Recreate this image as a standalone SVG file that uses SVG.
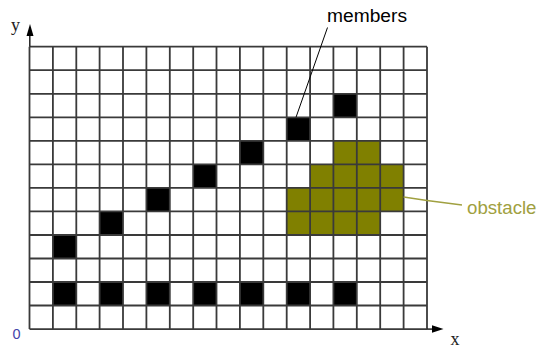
<svg xmlns="http://www.w3.org/2000/svg" width="537" height="348" viewBox="0 0 537 348">
<style>
.blk{fill:#000}
.obs{fill:#808000}
.grid{fill:none;stroke:#3a3a3a;stroke-width:1.8}
.lbl{font-family:"Liberation Sans",Arial,sans-serif}
.ax{font-family:"Liberation Serif","Times New Roman",serif;fill:#222}
</style>
<rect width="537" height="348" fill="#fff"/>
<g id="obstacle-cells">
<rect class="obs" x="333.4" y="140.8" width="46.8" height="23.6"/>
<rect class="obs" x="310.1" y="164.4" width="93.5" height="23.5"/>
<rect class="obs" x="286.7" y="187.9" width="116.9" height="23.5"/>
<rect class="obs" x="286.7" y="211.4" width="93.5" height="23.6"/>
</g>
<g id="members">
<rect class="blk" x="52.9" y="235.0" width="23.4" height="23.5"/>
<rect class="blk" x="99.6" y="211.4" width="23.4" height="23.6"/>
<rect class="blk" x="146.4" y="187.9" width="23.4" height="23.5"/>
<rect class="blk" x="193.2" y="164.4" width="23.3" height="23.5"/>
<rect class="blk" x="239.9" y="140.8" width="23.4" height="23.6"/>
<rect class="blk" x="286.7" y="117.3" width="23.4" height="23.5"/>
<rect class="blk" x="333.4" y="93.8" width="23.4" height="23.5"/>
<rect class="blk" x="52.9" y="282.0" width="23.4" height="23.5"/>
<rect class="blk" x="99.6" y="282.0" width="23.4" height="23.5"/>
<rect class="blk" x="146.4" y="282.0" width="23.4" height="23.5"/>
<rect class="blk" x="193.2" y="282.0" width="23.3" height="23.5"/>
<rect class="blk" x="239.9" y="282.0" width="23.4" height="23.5"/>
<rect class="blk" x="286.7" y="282.0" width="23.4" height="23.5"/>
<rect class="blk" x="333.4" y="282.0" width="23.4" height="23.5"/>
</g>
<g id="grid">
<path class="grid" d="M29.5 46.7V329.1M52.9 46.7V329.1M76.3 46.7V329.1M99.6 46.7V329.1M123 46.7V329.1M146.4 46.7V329.1M169.8 46.7V329.1M193.2 46.7V329.1M216.5 46.7V329.1M239.9 46.7V329.1M263.3 46.7V329.1M286.7 46.7V329.1M310.1 46.7V329.1M333.4 46.7V329.1M356.8 46.7V329.1M380.2 46.7V329.1M403.6 46.7V329.1M427 46.7V329.1"/>
<path class="grid" d="M29.5 46.7H427M29.5 70.2H427M29.5 93.8H427M29.5 117.3H427M29.5 140.8H427M29.5 164.4H427M29.5 187.9H427M29.5 211.4H427M29.5 235H427M29.5 258.5H427M29.5 282H427M29.5 305.5H427M29.5 329.1H427"/>
</g>
<g id="axes">
<path d="M29.8 46.7V35" stroke="#222" stroke-width="1.5"/>
<polygon points="30,24 33.5,36 26.5,36" fill="#000"/>
<path d="M427 329.1H433" stroke="#222" stroke-width="1.5"/>
<polygon points="443.5,329 432,325.2 432,332.8" fill="#000"/>
<text class="ax" x="11" y="31" font-size="18">y</text>
<text class="ax" x="450.5" y="344.5" font-size="18">x</text>
<text class="lbl" x="12.5" y="339" font-size="14.5" fill="#4444aa">0</text>
</g>
<g id="connectors">
<line x1="296" y1="117.3" x2="327.5" y2="27.5" stroke="#000" stroke-width="1"/>
<polyline points="403.6,197 427,200.5 462,205" fill="none" stroke="#a0a040" stroke-width="1.3"/>
</g>
<g id="labels">
<text class="lbl" x="327" y="22.3" font-size="17.5" textLength="80" lengthAdjust="spacingAndGlyphs" fill="#000">members</text>
<text class="lbl" x="467" y="214.3" font-size="17.5" textLength="69.5" lengthAdjust="spacingAndGlyphs" fill="#a0a040">obstacle</text>
</g>
</svg>
